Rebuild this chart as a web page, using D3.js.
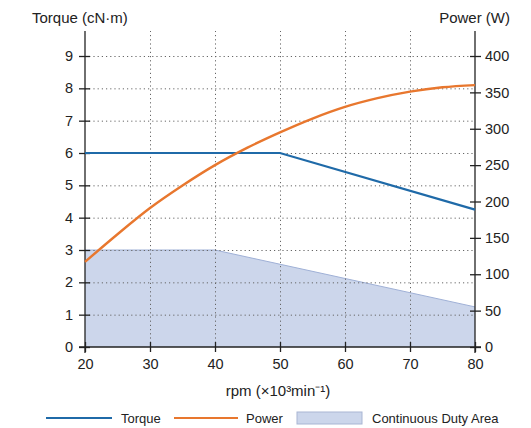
<!DOCTYPE html>
<html><head><meta charset="utf-8">
<script src="https://cdn.jsdelivr.net/npm/d3@7"></script>
<style>body{margin:0;background:#fff;} text{font-family:"Liberation Sans",Arial,sans-serif;fill:#222;}</style>
</head><body>
<svg id="c" width="531" height="428"></svg>
<script>
const rpmTicks = [20,30,40,50,60,70,80];
const torqueTicks = [0,1,2,3,4,5,6,7,8,9];
const powerTicks = [0,50,100,150,200,250,300,350,400];
const torqueRpm = [20,50,80];
const torqueVal = [6,6,4.25];
const powerRpm = [20,25,30,35,40,45,50,55,60,65,70,75,80];
const powerVal = [117,155,191,222,250,274,295,314,330,342,351,357,360];
const dutyRpm = [20,40,80];
const dutyVal = [3,3,1.24];

const svg = d3.select("#c");
const x = d3.scaleLinear().domain([20,80]).range([85,475]);
const yL = d3.scaleLinear().domain([0,9]).range([347,56]);
const yR = d3.scaleLinear().domain([0,400]).range([347,56]);
const plotTop = 31;

// duty area
const duty = dutyRpm.map((r,i)=>[r,dutyVal[i]]);
svg.append("path").datum(duty)
  .attr("d", d3.area().x(d=>x(d[0])).y0(yL(0)).y1(d=>yL(d[1])))
  .attr("fill","#ccd6eb");
svg.append("path").datum(duty)
  .attr("d", d3.line().x(d=>x(d[0])).y(d=>yL(d[1])))
  .attr("fill","none").attr("stroke","#9fb0d6").attr("stroke-width",1);

// grid
const g = svg.append("g").attr("stroke","#666").attr("stroke-width",1).attr("stroke-dasharray","1.2,3");
rpmTicks.slice(1,-1).forEach(t=>{
  g.append("line").attr("x1",x(t)+0.5).attr("x2",x(t)+0.5).attr("y1",yL(0)).attr("y2",plotTop);
});
torqueTicks.slice(1).forEach(t=>{
  g.append("line").attr("x1",x(20)).attr("x2",x(80)).attr("y1",yL(t)+0.5).attr("y2",yL(t)+0.5);
});

// axes
const axL = svg.append("g").attr("transform",`translate(${x(20)},0)`)
  .call(d3.axisLeft(yL).tickValues(torqueTicks).tickSize(6).tickPadding(6).tickFormat(d3.format("d")));
const axR = svg.append("g").attr("transform",`translate(${x(80)},0)`)
  .call(d3.axisRight(yR).tickValues(powerTicks).tickSize(6).tickPadding(4).tickFormat(d3.format("d")));
const axB = svg.append("g").attr("transform",`translate(0,${yL(0)})`)
  .call(d3.axisBottom(x).tickValues(rpmTicks).tickSize(5).tickPadding(7).tickFormat(d3.format("d")));
[axL,axR,axB].forEach(a=>{
  a.select(".domain").remove();
  a.selectAll("line").attr("stroke","#222").attr("stroke-width",1.3);
  a.selectAll("text").attr("font-size",14.5).attr("fill","#222");
});
axL.selectAll(".tick line").attr("x2",-6).attr("x1",5);
axR.selectAll(".tick line").attr("x1",-5).attr("x2",6);
axB.selectAll(".tick line").attr("y1",-5).attr("y2",5);
// axis lines
svg.append("line").attr("x1",x(20)).attr("x2",x(20)).attr("y1",plotTop).attr("y2",yL(0)+6).attr("stroke","#222").attr("stroke-width",1.3);
svg.append("line").attr("x1",x(80)).attr("x2",x(80)).attr("y1",plotTop).attr("y2",yL(0)+6).attr("stroke","#222").attr("stroke-width",1.3);
svg.append("line").attr("x1",x(20)-6).attr("x2",x(80)+6).attr("y1",yL(0)).attr("y2",yL(0)).attr("stroke","#222").attr("stroke-width",1.3);

// lines
const tq = torqueRpm.map((r,i)=>[r,torqueVal[i]]);
svg.append("path").datum(tq)
  .attr("d", d3.line().x(d=>x(d[0])).y(d=>yL(d[1])))
  .attr("fill","none").attr("stroke","#1f6aa8").attr("stroke-width",2.2);
const pw = powerRpm.map((r,i)=>[r,powerVal[i]]);
svg.append("path").datum(pw)
  .attr("d", d3.line().curve(d3.curveMonotoneX).x(d=>x(d[0])).y(d=>yR(d[1])))
  .attr("fill","none").attr("stroke","#e8772e").attr("stroke-width",2.4);

// titles
svg.append("text").attr("x",32).attr("y",23).attr("font-size",15).text("Torque (cN·m)");
svg.append("text").attr("x",510).attr("y",23).attr("text-anchor","end").attr("font-size",15).text("Power (W)");
svg.append("text").attr("x",278).attr("y",396).attr("text-anchor","middle").attr("font-size",15).text("rpm (×10³min⁻¹)");

// legend
const ly = 418;
svg.append("line").attr("x1",46).attr("x2",112).attr("y1",ly).attr("y2",ly).attr("stroke","#1f6aa8").attr("stroke-width",2.2);
svg.append("text").attr("x",121).attr("y",ly+4.5).attr("font-size",13).text("Torque");
svg.append("line").attr("x1",174).attr("x2",238).attr("y1",ly).attr("y2",ly).attr("stroke","#e8772e").attr("stroke-width",2.2);
svg.append("text").attr("x",246).attr("y",ly+4.5).attr("font-size",13).text("Power");
svg.append("rect").attr("x",297).attr("y",412).attr("width",65).attr("height",12).attr("fill","#ccd6eb").attr("stroke","#a9b6d3");
svg.append("text").attr("x",372).attr("y",ly+4.5).attr("font-size",13).text("Continuous Duty Area");
</script>
</body></html>
